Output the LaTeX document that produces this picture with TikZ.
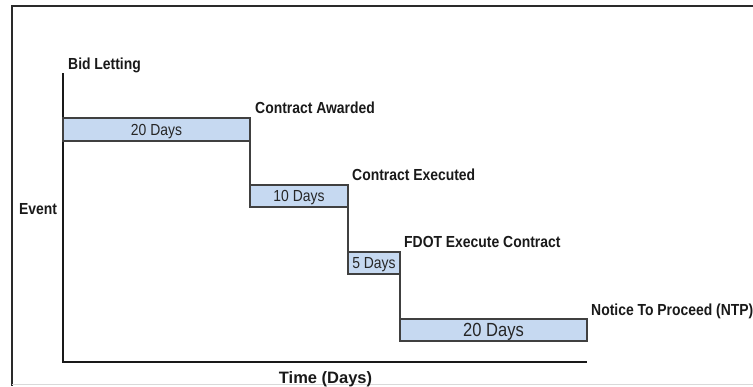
\documentclass[tikz,border=0pt]{standalone}
\usepackage{fontspec}
\setmainfont[FakeStretch=0.87]{Liberation Sans}
\newfontfamily\widefont{Liberation Sans}
\definecolor{boxfill}{HTML}{C6D9F1}
\definecolor{boxline}{HTML}{404040}
\definecolor{framec}{HTML}{2A2A2A}
\begin{document}
\begin{tikzpicture}[x=1pt,y=-1pt,
  dbox/.style={draw=boxline,line width=1.3pt,fill=boxfill,anchor=north west,inner sep=0pt,outer sep=0pt,font=\fontsize{16}{16}\selectfont,text=black!85,text height=11.5pt,text depth=0pt},
  evlabel/.style={anchor=base west,inner sep=0pt,font=\bfseries\fontsize{16}{16}\selectfont,text=black!90},
  conn/.style={draw=boxline,line width=1.3pt},
  axis/.style={draw=black!90,line width=2pt}]
\useasboundingbox (0,0) rectangle (753,386);
% outer frame
\draw[framec,line width=2pt] (753,6) -- (11.5,6) -- (11.5,386);
\draw[black!15,line width=1pt] (12,384.5) -- (753,384.5);
% axes
\coordinate (ytop) at (63,73);
\coordinate (orig) at (63,362);
\coordinate (xend) at (587,362);
\draw[axis] (ytop) -- (orig) -- (xend);
% boxes
\node[dbox,minimum width=187pt,minimum height=23pt] (b1) at (63,118) {20 Days};
\node[dbox,minimum width=98pt,minimum height=22pt] (b2) at (250,185) {10 Days};
\node[dbox,minimum width=52pt,minimum height=22pt] (b3) at (348,252) {5 Days};
\node[dbox,minimum width=187pt,minimum height=22pt,font=\fontsize{19}{19}\selectfont,text height=13.6pt] (b4) at (400,319) {20 Days};
% connectors
\draw[conn] (b1.south east) -- (b2.north west);
\draw[conn] (b2.south east) -- (b3.north west);
\draw[conn] (b3.south east) -- (b4.north west);
% labels
\node[evlabel] (l0) at (68,69.5) {Bid Letting};
\node[evlabel] (l1) at (255,113) {Contract Awarded};
\node[evlabel] (l2) at (352,180) {Contract Executed};
\node[evlabel] (l3) at (404,247) {FDOT Execute Contract};
\node[evlabel] (l4) at (591,315) {Notice To Proceed (NTP)};
\node[evlabel] (ev) at (19,214) {Event};
\node[anchor=base,inner sep=0pt,font=\widefont\bfseries\fontsize{16.5}{16.5}\selectfont,text=black!90] (tx) at (325.5,383) {Time (Days)};
\end{tikzpicture}
\end{document}
